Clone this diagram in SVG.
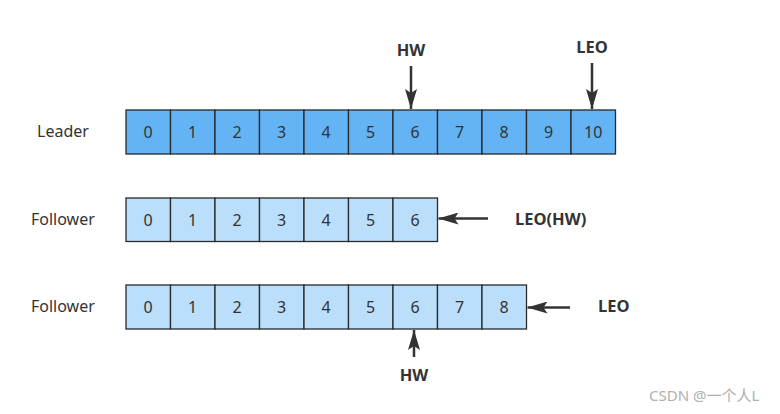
<svg xmlns="http://www.w3.org/2000/svg" width="780" height="414" viewBox="0 0 780 414">
<style>
.lbl{font-family:"Noto Sans","Open Sans","Liberation Sans",sans-serif;font-size:16px;fill:#333}
.num{font-family:"Noto Sans","Open Sans","Liberation Sans",sans-serif;font-size:16px;fill:#333;text-anchor:middle}
.bold{font-family:"Noto Sans","Open Sans","Liberation Sans",sans-serif;font-size:16.5px;font-weight:bold;fill:#333}
.lead rect{fill:#63b3f5;stroke:#2a2a2a;stroke-width:1.3}
.fol rect{fill:#bbdefb;stroke:#2a2a2a;stroke-width:1.3}
.arr{stroke:#333;stroke-width:2.5;fill:none;marker-end:url(#ah)}
</style>
<defs>
<marker id="ah" viewBox="0 0 20 12" refX="20" refY="6" markerWidth="8" markerHeight="4.8" orient="auto" markerUnits="strokeWidth">
<path d="M0,0 L20,6 L0,12 L4,6 Z" fill="#333"/>
</marker>
</defs>
<rect width="780" height="414" fill="#fff"/>
<g id="leader" class="lead">
<text class="lbl" x="37" y="137">Leader</text>
<rect x="126" y="110" width="44.5" height="44"/><text class="num" x="148.2" y="138">0</text>
<rect x="170.5" y="110" width="44.5" height="44"/><text class="num" x="192.7" y="138">1</text>
<rect x="215" y="110" width="44.5" height="44"/><text class="num" x="237.2" y="138">2</text>
<rect x="259.5" y="110" width="44.5" height="44"/><text class="num" x="281.7" y="138">3</text>
<rect x="304" y="110" width="44.5" height="44"/><text class="num" x="326.2" y="138">4</text>
<rect x="348.5" y="110" width="44.5" height="44"/><text class="num" x="370.7" y="138">5</text>
<rect x="393" y="110" width="44.5" height="44"/><text class="num" x="415.2" y="138">6</text>
<rect x="437.5" y="110" width="44.5" height="44"/><text class="num" x="459.7" y="138">7</text>
<rect x="482" y="110" width="44.5" height="44"/><text class="num" x="504.2" y="138">8</text>
<rect x="526.5" y="110" width="44.5" height="44"/><text class="num" x="548.7" y="138">9</text>
<rect x="571" y="110" width="44.5" height="44"/><text class="num" x="593.2" y="138">10</text>
</g>
<g id="follower1" class="fol">
<text class="lbl" x="31" y="225">Follower</text>
<rect x="126" y="198" width="44.5" height="43.5"/><text class="num" x="148.2" y="225.5">0</text>
<rect x="170.5" y="198" width="44.5" height="43.5"/><text class="num" x="192.7" y="225.5">1</text>
<rect x="215" y="198" width="44.5" height="43.5"/><text class="num" x="237.2" y="225.5">2</text>
<rect x="259.5" y="198" width="44.5" height="43.5"/><text class="num" x="281.7" y="225.5">3</text>
<rect x="304" y="198" width="44.5" height="43.5"/><text class="num" x="326.2" y="225.5">4</text>
<rect x="348.5" y="198" width="44.5" height="43.5"/><text class="num" x="370.7" y="225.5">5</text>
<rect x="393" y="198" width="44.5" height="43.5"/><text class="num" x="415.2" y="225.5">6</text>
</g>
<g id="follower2" class="fol">
<text class="lbl" x="31" y="312">Follower</text>
<rect x="126" y="285" width="44.5" height="44"/><text class="num" x="148.2" y="313">0</text>
<rect x="170.5" y="285" width="44.5" height="44"/><text class="num" x="192.7" y="313">1</text>
<rect x="215" y="285" width="44.5" height="44"/><text class="num" x="237.2" y="313">2</text>
<rect x="259.5" y="285" width="44.5" height="44"/><text class="num" x="281.7" y="313">3</text>
<rect x="304" y="285" width="44.5" height="44"/><text class="num" x="326.2" y="313">4</text>
<rect x="348.5" y="285" width="44.5" height="44"/><text class="num" x="370.7" y="313">5</text>
<rect x="393" y="285" width="44.5" height="44"/><text class="num" x="415.2" y="313">6</text>
<rect x="437.5" y="285" width="44.5" height="44"/><text class="num" x="459.7" y="313">7</text>
<rect x="482" y="285" width="44.5" height="44"/><text class="num" x="504.2" y="313">8</text>
</g>
<g id="labels">
<text class="bold" x="411" y="56" text-anchor="middle">HW</text>
<text class="bold" x="592" y="53" text-anchor="middle">LEO</text>
<text class="bold" x="515" y="225">LEO(HW)</text>
<text class="bold" x="598" y="312">LEO</text>
<text class="bold" x="414" y="381" text-anchor="middle">HW</text>
</g>
<g id="connectors">
<line class="arr" x1="411" y1="66" x2="411" y2="109"/>
<line class="arr" x1="592" y1="63" x2="592" y2="109"/>
<line class="arr" x1="488" y1="218.5" x2="438.5" y2="218.5"/>
<line class="arr" x1="570" y1="307.5" x2="527.5" y2="307.5"/>
<line class="arr" x1="414" y1="357" x2="414" y2="330"/>
</g>
<text x="649" y="401" style="font-family:'Noto Sans','Noto Sans CJK SC',sans-serif;font-size:15px;fill:#b0b0b0">CSDN @一个人L</text>
</svg>
